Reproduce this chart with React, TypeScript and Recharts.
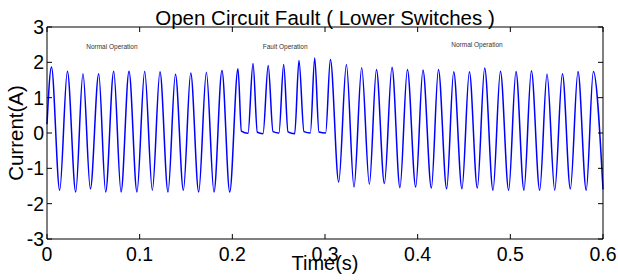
import { LineChart, Line, XAxis, YAxis, Label, ReferenceDot } from 'recharts';

// peaks / troughs / flat spots
const time = [
  0, 0.0048, 0.0137, 0.022, 0.031, 0.0388, 0.0468, 0.0558, 0.0633, 0.072, 0.0799,
  0.0885, 0.0971, 0.1054, 0.1137, 0.1219, 0.1306, 0.1386, 0.1472, 0.1551, 0.1637,
  0.172, 0.1802, 0.1888, 0.1972, 0.2061, 0.2098, 0.2169, 0.2223, 0.227, 0.2331,
  0.2387, 0.2439, 0.2503, 0.2554, 0.2601, 0.2673, 0.2719, 0.2773, 0.2842, 0.2889,
  0.2935, 0.3007, 0.3058, 0.3148, 0.3231, 0.3313, 0.3396, 0.3479, 0.3555, 0.3641,
  0.3723, 0.3809, 0.3889, 0.3979, 0.4057, 0.4148, 0.4224, 0.4313, 0.4389, 0.4478,
  0.4558, 0.4644, 0.4723, 0.4813, 0.4893, 0.4982, 0.5061, 0.5147, 0.5227, 0.5317,
  0.5396, 0.5479, 0.5562, 0.5648, 0.573, 0.5819, 0.5896, 0.6,
];
const current = [
  0.25, 1.87, -1.62, 1.75, -1.67, 1.68, -1.58, 1.68, -1.67, 1.75, -1.67,
  1.75, -1.67, 1.75, -1.62, 1.73, -1.67, 1.66, -1.62, 1.7, -1.67,
  1.72, -1.67, 1.77, -1.67, 1.82, 0.05, -0.01, 1.97, 0.02, -0.02,
  1.91, 0.04, 0.0, 1.94, 0.03, -0.02, 2.05, 0.04, 0.0, 2.12,
  0.03, 0.0, 2.08, -1.39, 1.94, -1.53, 1.85, -1.45, 1.8, -1.43,
  1.86, -1.55, 1.8, -1.53, 1.78, -1.56, 1.8, -1.58, 1.73, -1.58,
  1.73, -1.56, 1.84, -1.62, 1.75, -1.62, 1.74, -1.62, 1.76, -1.62,
  1.67, -1.62, 1.68, -1.58, 1.74, -1.62, 1.74, -1.6,
];
const xTicks = [0, 0.1, 0.2, 0.3, 0.4, 0.5, 0.6];
const yTicks = [-3, -2, -1, 0, 1, 2, 3];
const notes = [
  { t: 0.07, v: 2.45, text: 'Normal Operation' },
  { t: 0.257, v: 2.45, text: 'Fault Operation' },
  { t: 0.464, v: 2.51, text: 'Normal Operation' },
];

const data = time.map((t, i) => ({ t, i: current[i] }));

const font = 'Liberation Sans, Arial, Helvetica, sans-serif';
const tickStyle = { fontSize: 19.5, fill: '#000', fontFamily: font };
const labelStyle = { fontSize: 20, fill: '#000', fontFamily: font };
const blank = () => '';

export default function App() {
  return (
    <div style={{ position: 'absolute', left: 0, top: 0, background: '#fff' }}>
      <LineChart width={618} height={280} data={data} margin={{ top: 26, right: 14, bottom: 0, left: 7 }}>
        <XAxis
          dataKey="t"
          type="number"
          domain={[0, 0.6]}
          ticks={xTicks}
          tickSize={-5}
          tickMargin={13}
          height={41}
          stroke="#000"
          tick={tickStyle}
          interval={0}
        >
          <Label value="Time(s)" position="insideBottom" offset={10} style={labelStyle} />
        </XAxis>
        <XAxis
          xAxisId="top"
          orientation="top"
          dataKey="t"
          type="number"
          domain={[0, 0.6]}
          ticks={xTicks}
          tickSize={-5}
          height={1}
          stroke="#000"
          tickFormatter={blank}
          interval={0}
        >
          <Label value="Open Circuit Fault ( Lower Switches )" position="top" offset={1} style={{ ...labelStyle, fontSize: 20.5 }} />
        </XAxis>
        <YAxis
          type="number"
          domain={[-3, 3]}
          ticks={yTicks}
          tickSize={-5}
          tickMargin={8}
          width={40}
          stroke="#000"
          tick={tickStyle}
          interval={0}
        >
          <Label value="Current(A)" angle={-90} position="insideLeft" offset={9} style={{ ...labelStyle, fontSize: 20.5, textAnchor: 'middle' }} />
        </YAxis>
        <YAxis
          yAxisId="right"
          orientation="right"
          type="number"
          domain={[-3, 3]}
          ticks={yTicks}
          tickSize={-5}
          width={1}
          stroke="#000"
          tickFormatter={blank}
          interval={0}
        />
        <Line
          xAxisId="top"
          yAxisId="right"
          dataKey="i"
          stroke="none"
          dot={false}
          isAnimationActive={false}
        />
        <Line
          type="monotone"
          dataKey="i"
          stroke="#0000ff"
          strokeWidth={1.5}
          dot={false}
          isAnimationActive={false}
        />
        {notes.map((n) => (
          <ReferenceDot
            key={n.text + n.t}
            x={n.t}
            y={n.v}
            r={1}
            fill="none"
            stroke="none"
            label={{ value: n.text, position: 'center', fontSize: 6.5, fill: '#333', fontFamily: font }}
          />
        ))}
      </LineChart>
    </div>
  );
}
